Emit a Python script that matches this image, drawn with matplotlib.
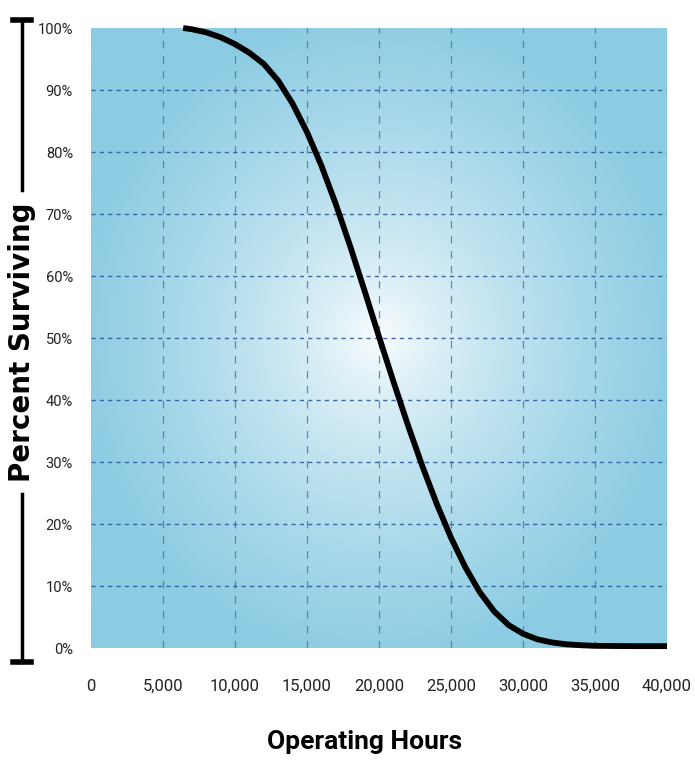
import numpy as np
import matplotlib.pyplot as plt
from matplotlib.lines import Line2D

######survival curve######
hours = [6400, 7000, 8000, 9000, 10000, 11000, 12000, 13000, 14000, 15000,
         16000, 17000, 18000, 19000, 20000, 21000, 22000, 23000, 24000, 25000,
         26000, 27000, 28000, 29000, 30000, 31000, 32000, 33000, 34000, 35000,
         37500, 40000]
pct = [100, 99.8, 99.3, 98.5, 97.4, 96, 94.2, 91.5, 87.8, 83.2,
       77.8, 71.6, 64.8, 57.6, 50.2, 43, 36, 29.4, 23.3, 17.8,
       13, 9, 5.9, 3.7, 2.3, 1.4, 0.9, 0.6, 0.45, 0.35,
       0.3, 0.3]

x_ticks = [0, 5000, 10000, 15000, 20000, 25000, 30000, 35000, 40000]
x_labels = ['0', '5,000', '10,000', '15,000', '20,000', '25,000', '30,000', '35,000', '40,000']
y_ticks = [0, 10, 20, 30, 40, 50, 60, 70, 80, 90, 100]
y_labels = ['%d%%' % v for v in y_ticks]

narrow = ['Roboto', 'DejaVu Sans']

fig = plt.figure(figsize=(6.95, 7.78), dpi=100)
ax = fig.add_axes([91/695, 1-648/778, 576/695, 620/778])

######radial gradient background######
gx, gy = np.meshgrid(np.linspace(-1, 1, 400), np.linspace(-1, 1, 400))
r = np.clip(np.sqrt(gx**2 + gy**2) / 1.05, 0, 1) ** 0.7
blue = np.array([0.55, 0.80, 0.89])
img = (1 - r[..., None]) * np.array([1.0, 1.0, 1.0]) + r[..., None] * blue
ax.imshow(img, extent=[0, 40000, 0, 100], aspect='auto', origin='lower', zorder=0)

for v in x_ticks[1:-1]:
    ax.axvline(v, color='#4a6fa5', lw=0.9, ls=(0, (6, 6)), alpha=0.8, zorder=1)
for v in y_ticks[1:-1]:
    ax.axhline(v, color='#2f5a9e', lw=1.0, ls=(0, (3, 3)), alpha=0.9, zorder=1)

ax.plot(hours, pct, color='black', lw=4.2, solid_capstyle='butt',
        solid_joinstyle='round', clip_on=False, zorder=3)

ax.set_xlim(0, 40000)
ax.set_ylim(0, 100)
for s in ax.spines.values():
    s.set_visible(False)
ax.set_xticks(x_ticks)
ax.set_xticklabels(x_labels, fontsize=12, family=narrow, color='#222222')
ax.set_yticks(y_ticks)
ax.set_yticklabels(y_labels, fontsize=10.5, family=narrow, color='#222222')
ax.tick_params(axis='x', length=0, pad=22)
ax.tick_params(axis='y', length=0, pad=13)

fig.text(0.525, 0.046, 'Operating Hours', ha='center', va='center',
         fontsize=19, fontweight='bold', family=narrow)
fig.text(22/695, 1-342/778, 'Percent Surviving', ha='center', va='center',
         rotation=90, fontsize=20, fontweight='bold')

######bracket line on the left######
lx = 22/695
fig.add_artist(Line2D([lx, lx], [1-20/778, 1-190/778], color='black', lw=2.5))
fig.add_artist(Line2D([lx, lx], [1-494/778, 1-662/778], color='black', lw=2.5))
fig.add_artist(Line2D([lx-9/695, lx+9/695], [1-20/778, 1-20/778], color='black', lw=4))
fig.add_artist(Line2D([lx-9/695, lx+9/695], [1-662/778, 1-662/778], color='black', lw=4))

fig.savefig('out.png', dpi=100)
